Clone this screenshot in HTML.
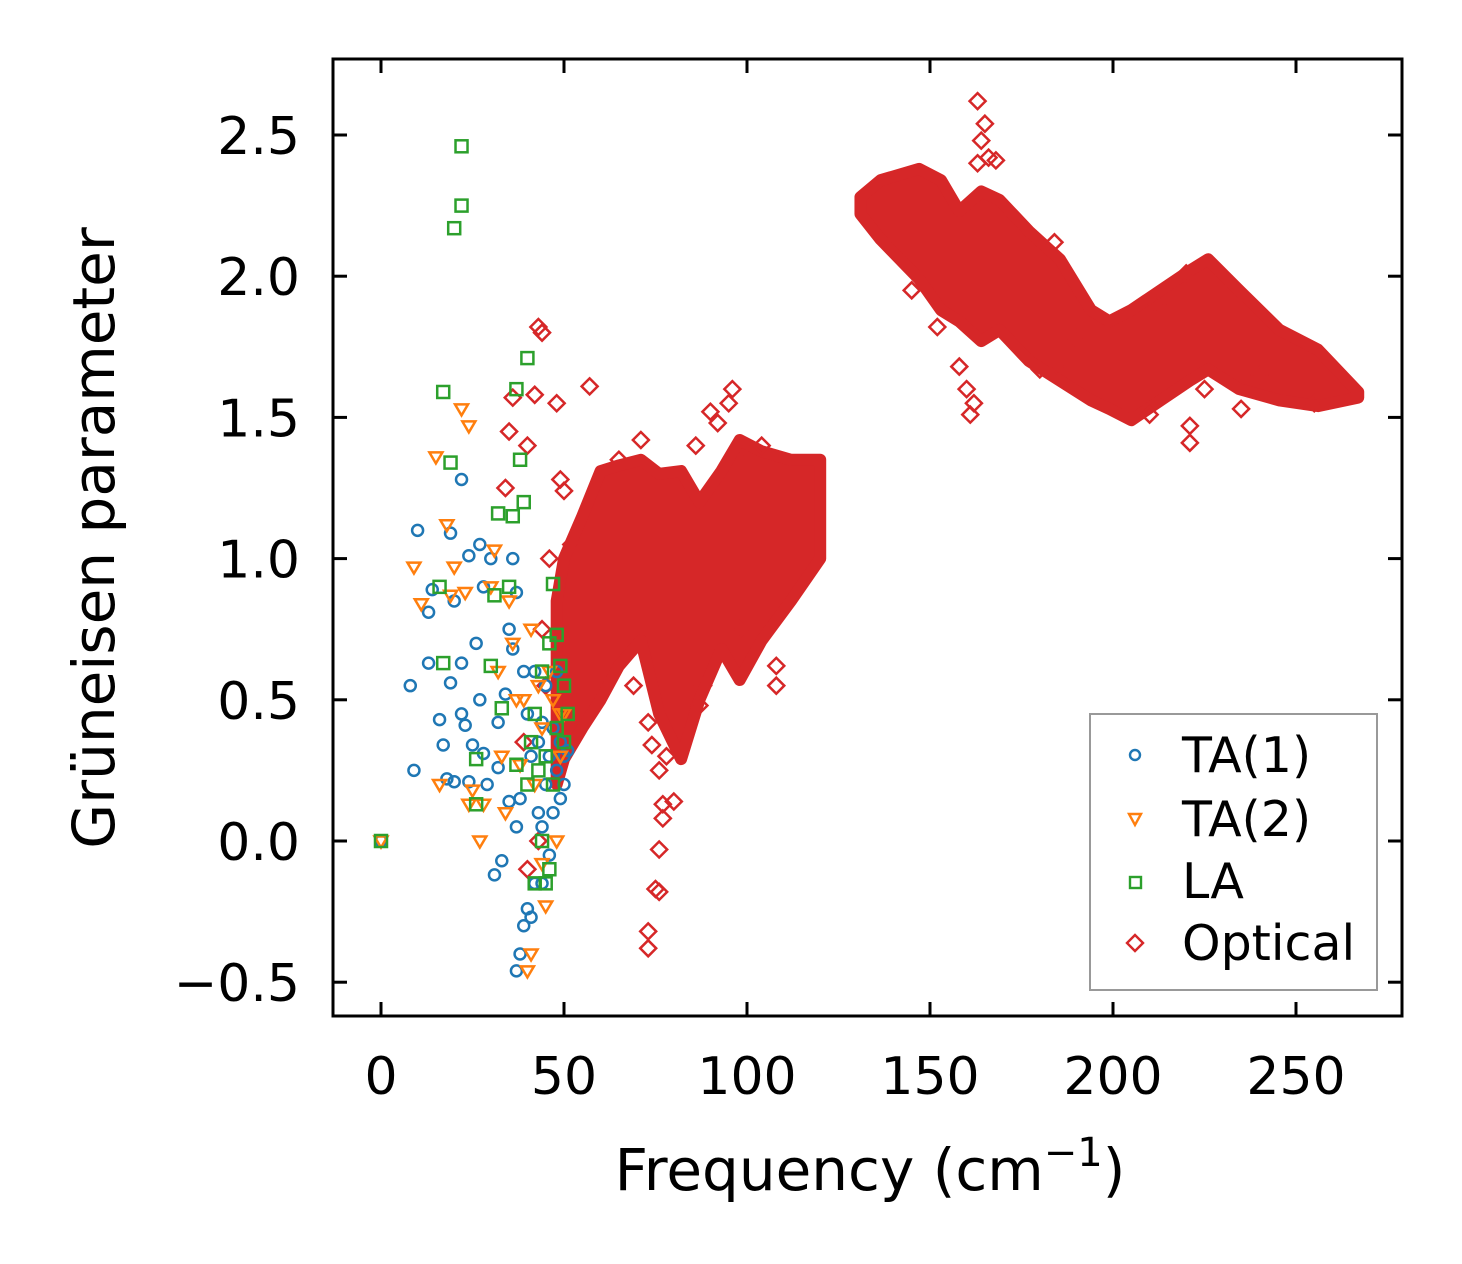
<!DOCTYPE html>
<html><head><meta charset="utf-8">
<style>
html,body{margin:0;padding:0;background:#fff;}
svg{display:block;font-family:"DejaVu Sans","Liberation Sans",sans-serif;}
</style></head>
<body>
<svg id="chart" width="1462" height="1264" viewBox="0 0 1462 1264">
<g id="marks"></g>
<rect x="333" y="59" width="1069" height="957" fill="none" stroke="#000" stroke-width="3"/>
<g id="ticks"></g>
<text x="870" y="1190" text-anchor="middle" font-size="58">Frequency (cm<tspan dy="-24" font-size="40">−1</tspan><tspan dy="24">)</tspan></text>
<text transform="translate(114,538) rotate(-90)" text-anchor="middle" font-size="58">Grüneisen parameter</text>
<g>
<rect x="1090" y="714" width="287" height="276" fill="#fff" stroke="#999" stroke-width="2"/>
<g><circle cx="1135" cy="755" r="5" fill="none" stroke="#1f77b4" stroke-width="2.4"/><text x="1182" y="772" font-size="49">TA(1)</text></g>
<g><path d="M1129,814 L1141,814 L1135,825 Z" fill="none" stroke="#ff7f0e" stroke-width="2.4"/><text x="1182" y="836" font-size="49">TA(2)</text></g>
<g><rect x="1130" y="877" width="11" height="11" fill="none" stroke="#2ca02c" stroke-width="2.4"/><text x="1182" y="898" font-size="49">LA</text></g>
<g><path d="M1135,935 L1143,943 L1135,951 L1127,943 Z" fill="none" stroke="#d62728" stroke-width="2.4"/><text x="1182" y="960" font-size="49">Optical</text></g>
</g>
</svg>
<script>
const xTicks=[0,50,100,150,200,250];
const yTicks=[-0.5,0,0.5,1.0,1.5,2.0,2.5];
const yTickLabels=["−0.5","0.0","0.5","1.0","1.5","2.0","2.5"];
const ta1Freq=[0,8,9,10,13,13,14,16,17,18,19,19,20,20,22,22,22,23,24,24,25,26,27,27,28,28,29,30,31,32,32,33,34,35,35,36,36,37,37,37,38,38,39,39,40,40,41,41,42,43,43,44,44,45,45,46,46,47,47,48,48,49,49,50,50,51,42,44];
const ta1Gamma=[0,0.55,0.25,1.1,0.81,0.63,0.89,0.43,0.34,0.22,1.09,0.56,0.85,0.21,1.28,0.63,0.45,0.41,1.01,0.21,0.34,0.7,1.05,0.5,0.31,0.9,0.2,1.0,-0.12,0.42,0.26,-0.07,0.52,0.14,0.75,0.68,1.0,0.05,-0.46,0.88,0.15,-0.4,-0.3,0.6,-0.24,0.45,-0.27,0.3,0.6,0.35,0.1,-0.15,0.42,0.55,0.2,-0.05,0.3,0.1,0.4,0.25,0.6,0.15,0.35,0.3,0.2,0.32,-0.15,0.05];
const ta2Freq=[0,9,11,15,16,18,19,20,22,23,24,24,25,27,28,30,31,32,33,34,35,36,37,38,39,40,41,41,42,43,44,44,45,46,47,48,49,49,50];
const ta2Gamma=[0,0.97,0.84,1.36,0.2,1.12,0.87,0.97,1.53,0.88,1.47,0.13,0.18,0.0,0.13,0.9,1.03,0.6,0.3,0.1,0.85,0.7,0.5,0.27,0.5,-0.46,-0.4,0.75,0.2,0.55,-0.08,0.4,-0.23,0.6,0.5,0.0,0.3,0.45,0.45];
const laFreq=[0,17,17,19,20,22,22,16,26,26,30,31,32,33,35,36,37,37,38,39,40,40,41,42,42,43,44,44,45,45,46,46,47,47,48,48,49,50,51,50];
const laGamma=[0,0.63,1.59,1.34,2.17,2.25,2.46,0.9,0.29,0.13,0.62,0.87,1.16,0.47,0.9,1.15,1.6,0.27,1.35,1.2,1.71,0.2,0.35,0.45,-0.15,0.25,0.0,0.6,-0.15,0.3,-0.1,0.7,0.91,0.2,0.73,0.4,0.62,0.55,0.45,0.35];
const optFreq=[34,36,35,42,43,44,48,40,46,57,49,50,52,73,73,75,76,76,77,77,76,78,80,74,73,71,65,69,87,88,92,95,96,99,108,108,98,86,90,104,43,45,40,39,44,163,165,164,163,166,168,162,161,160,158,184,180,185,221,221,235,225,190,200,210,255,240,152,145,212,220];
const optGamma=[1.25,1.57,1.45,1.58,1.82,1.8,1.55,1.4,1.0,1.61,1.28,1.24,1.05,-0.38,-0.32,-0.17,-0.18,-0.03,0.08,0.13,0.25,0.3,0.14,0.34,0.42,1.42,1.35,0.55,0.48,0.55,1.48,1.55,1.6,1.4,0.55,0.62,0.75,1.4,1.52,1.4,0.0,0.55,-0.1,0.35,0.75,2.62,2.54,2.48,2.4,2.42,2.41,1.55,1.51,1.6,1.68,2.12,1.67,1.68,1.41,1.47,1.53,1.6,1.78,1.83,1.51,1.55,1.65,1.82,1.95,1.9,2.01];
// dense optical clouds (envelopes)
const band1Freq=[48,50,55,60,65,71,76,82,87,93,98,104,112,120];
const band1Upper=[0.85,1.0,1.15,1.31,1.33,1.35,1.3,1.31,1.2,1.31,1.42,1.38,1.35,1.35];
const band1Lower=[0.2,0.29,0.4,0.5,0.62,0.71,0.45,0.29,0.5,0.68,0.57,0.71,0.85,1.0];
const band2Freq=[131,136.5,147,153,158,164,169,177,185.5,194,199,205,213,221,226,234.5,245.5,256,267];
const band2Upper=[2.28,2.34,2.38,2.34,2.23,2.3,2.27,2.16,2.06,1.88,1.84,1.88,1.95,2.02,2.06,1.95,1.81,1.74,1.59];
const band2Lower=[2.22,2.13,1.99,1.88,1.84,1.77,1.81,1.7,1.63,1.56,1.53,1.49,1.56,1.63,1.67,1.6,1.56,1.54,1.57];

const NS="http://www.w3.org/2000/svg";
const X=v=>381+v*3.66;
const Y=v=>841-v*282.4;
const marks=document.getElementById('marks');
const ticks=document.getElementById('ticks');
function mk(tag,attrs,parent){const e=document.createElementNS(NS,tag);for(const k in attrs)e.setAttribute(k,attrs[k]);parent.appendChild(e);return e;}

function band(f,u,l,name){
  let pts=[];
  for(let i=0;i<f.length;i++)pts.push(X(f[i])+","+Y(u[i]));
  for(let i=f.length-1;i>=0;i--)pts.push(X(f[i])+","+Y(l[i]));
  const p=mk('polygon',{points:pts.join(" "),fill:"#d62728",stroke:"#d62728","stroke-width":12,"stroke-linejoin":"round"},marks);
  
  
}
band(band1Freq,band1Upper,band1Lower,'optical-cloud-low');
band(band2Freq,band2Upper,band2Lower,'optical-cloud-high');

for(let i=0;i<optFreq.length;i++){
  const x=X(optFreq[i]),y=Y(optGamma[i]);
  const e=mk('path',{d:`M${x},${y-8} L${x+8},${y} L${x},${y+8} L${x-8},${y} Z`,fill:"none",stroke:"#d62728","stroke-width":2.5},marks);
  
  
}
for(let i=0;i<ta1Freq.length;i++){
  const e=mk('circle',{cx:X(ta1Freq[i]),cy:Y(ta1Gamma[i]),r:5.5,fill:"none",stroke:"#1f77b4","stroke-width":2.5},marks);
  
  
}
for(let i=0;i<ta2Freq.length;i++){
  const x=X(ta2Freq[i]),y=Y(ta2Gamma[i]);
  const e=mk('path',{d:`M${x-6.5},${y-4.5} L${x+6.5},${y-4.5} L${x},${y+6.5} Z`,fill:"none",stroke:"#ff7f0e","stroke-width":2.5},marks);
  
  
}
for(let i=0;i<laFreq.length;i++){
  const e=mk('rect',{x:X(laFreq[i])-6,y:Y(laGamma[i])-6,width:12,height:12,fill:"none",stroke:"#2ca02c","stroke-width":2.5},marks);
  
  
}
xTicks.forEach(v=>{
  const x=X(v);
  mk('line',{x1:x,y1:1016,x2:x,y2:1002,stroke:"#000","stroke-width":3},ticks);
  mk('line',{x1:x,y1:59,x2:x,y2:73,stroke:"#000","stroke-width":3},ticks);
  const t=mk('text',{x:x,y:1094,"text-anchor":"middle","font-size":52},ticks);
  t.textContent=v;
  
  
});
yTicks.forEach((v,i)=>{
  const y=Y(v);
  mk('line',{x1:333,y1:y,x2:347,y2:y,stroke:"#000","stroke-width":3},ticks);
  mk('line',{x1:1402,y1:y,x2:1388,y2:y,stroke:"#000","stroke-width":3},ticks);
  const t=mk('text',{x:300,y:y+19,"text-anchor":"end","font-size":52},ticks);
  t.textContent=yTickLabels[i];
  
  
});
</script>
</body></html>
